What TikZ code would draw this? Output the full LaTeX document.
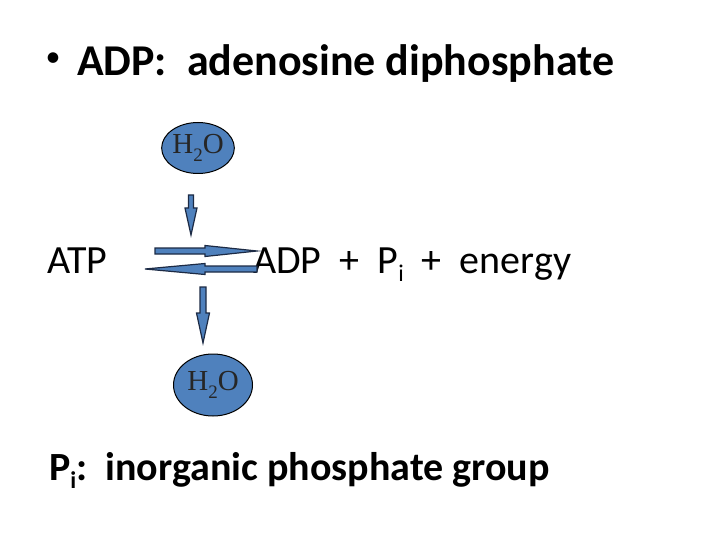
\documentclass[tikz,border=0pt]{standalone}
\usepackage{fontspec}
\setmainfont{Carlito}
\newfontfamily\serifh{Liberation Serif}
\usetikzlibrary{shapes.geometric}
\definecolor{blobfill}{HTML}{4F81BD}
\definecolor{edgedark}{HTML}{1C2A44}
\begin{document}
\begin{tikzpicture}[x=1pt,y=-1pt,
  blob/.style={ellipse, draw=black, line width=1pt, fill=blobfill, inner sep=0pt,
    font=\serifh\fontsize{29}{29}\selectfont, text=black!85},
  blockarrow/.style={draw=edgedark, fill=blobfill, line width=1.2pt, line join=miter},
  bigtext/.style={anchor=base west, inner sep=0pt}]
\useasboundingbox (0,0) rectangle (720,540);
\node[inner sep=0pt, font=\fontsize{30}{30}\selectfont] (bullet) at (53,60) {•};
\node[bigtext, font=\bfseries\fontsize{44}{44}\selectfont] (title) at (77,76) {ADP:\ \ adenosine diphosphate};
\node[blob, minimum width=70pt, minimum height=51pt] (h2otop) at (198,148) {H\raisebox{-0.28em}{\fontsize{19}{19}\selectfont 2}O};
\node[blob, minimum width=79pt, minimum height=62pt] (h2obot) at (213,385) {H\raisebox{-0.28em}{\fontsize{19}{19}\selectfont 2}O};
\node[bigtext, font=\fontsize{40}{40}\selectfont] (atp) at (47,273) {ATP};
\node[bigtext, font=\fontsize{40}{40}\selectfont] (adp) at (253,273) {ADP\ \ +\ \ P\raisebox{-0.2em}{\fontsize{24}{24}\selectfont i}\ \ +\ \ energy};
\node[bigtext, font=\bfseries\fontsize{40}{40}\selectfont] (pidef) at (49,480) {P\raisebox{-0.22em}{\fontsize{24}{24}\selectfont i}:\ \ inorganic phosphate group};
% water in
\draw[blockarrow] (188.5,195) -- (193.5,195) -- (193.5,208) -- (197,208) -- (191,235) -- (185,208) -- (188.5,208) -- cycle;
% forward arrow
\draw[blockarrow] (155,248) -- (205,248) -- (205,245.5) -- (257,251) -- (205,256.5) -- (205,254) -- (155,254) -- cycle;
% reverse arrow
\draw[blockarrow] (257,266) -- (205,266) -- (205,263.5) -- (145,269) -- (205,274.5) -- (205,272) -- (257,272) -- cycle;
% water out
\draw[blockarrow] (200,287) -- (206,287) -- (206,313) -- (209.5,313) -- (203,343) -- (196.5,313) -- (200,313) -- cycle;
\end{tikzpicture}
\end{document}
